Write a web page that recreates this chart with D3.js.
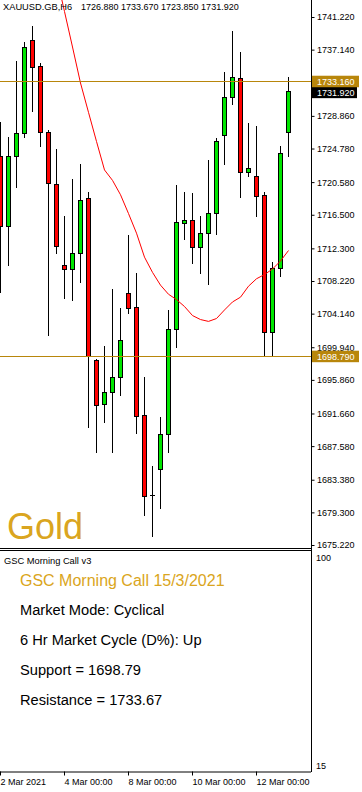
<!DOCTYPE html>
<html><head><meta charset="utf-8">
<script src="https://cdn.jsdelivr.net/npm/d3@7"></script>
<style>html,body{margin:0;padding:0;background:#fff;overflow:hidden}
text{font-family:"Liberation Sans",Arial,sans-serif}</style>
</head><body><svg id="c" width="362" height="792"></svg>
<script>
// ---------- data ----------
const symbolLabel = "XAUUSD.GB,H6";
const headerValues = "1726.880 1733.670 1723.850 1731.920";
const opens  = [1723.85,1715.10,1723.85,1726.68,1738.31,1735.10,1726.85,1720.31,1710.22,1709.68,1711.68,1718.56,1698.35,1692.80,1694.30,1696.18,1706.68,1704.93,1691.47,1681.43,1684.76,1689.06,1702.18,1715.51,1715.85,1712.51,1714.18,1716.68,1726.47,1731.18,1733.56,1721.88,1721.35,1718.97,1701.85,1709.81,1726.88];
const highs  = [1728.10,1726.22,1735.76,1738.06,1740.13,1735.43,1727.10,1724.72,1716.35,1720.97,1722.85,1719.35,1698.47,1700.10,1707.22,1704.81,1713.97,1709.18,1696.26,1685.10,1691.18,1704.60,1720.22,1719.38,1719.26,1716.35,1723.35,1726.10,1734.31,1739.51,1736.81,1728.01,1727.63,1719.38,1710.63,1725.10,1733.67];
const lows   = [1706.85,1710.22,1719.93,1726.26,1729.51,1725.13,1701.47,1711.68,1706.13,1705.85,1708.13,1690.01,1686.81,1690.56,1686.88,1693.97,1704.26,1689.26,1678.97,1676.38,1679.81,1686.81,1700.01,1713.43,1710.43,1709.26,1707.81,1714.10,1722.81,1730.31,1718.76,1721.38,1716.38,1698.88,1698.97,1708.88,1723.85];
const closes = [1715.10,1723.85,1726.68,1737.43,1734.93,1726.88,1720.43,1712.63,1709.68,1711.68,1718.30,1698.85,1692.72,1694.30,1696.18,1700.81,1704.81,1691.38,1681.38,1681.43,1689.10,1702.18,1715.56,1715.85,1712.51,1714.18,1716.68,1725.72,1731.22,1733.72,1721.88,1722.31,1718.88,1701.85,1709.81,1724.18,1731.92];
const maStart = 7;
const maValues = [1746.3,1741.9,1737.47,1732.97,1729.3,1725.66,1722.1,1720.8,1719.0,1716.65,1714.2,1711.2,1709.3,1707.7,1706.56,1705.9,1705.03,1703.9,1703.4,1703.17,1703.53,1704.6,1705.6,1706.2,1707.57,1708.5,1709.03,1709.72,1710.72,1712.03];
const priceTicks = [1741.22,1737.14,1728.86,1724.78,1720.58,1716.50,1712.30,1708.22,1704.14,1699.94,1695.86,1691.66,1687.58,1683.38,1679.30,1675.22];
const timeTickIndex = [0,8,16,24,32];
const timeTickLabels = ["2 Mar 2021","4 Mar 00:00","8 Mar 00:00","10 Mar 00:00","12 Mar 00:00"];
const resistanceLevel = 1733.16;
const supportLevel = 1698.79;
const lastPrice = 1731.92;
const subScaleLabels = [100, 15];
const watermark = "Gold";
const subWindowName = "GSC Morning Call v3";
const panelTitle = "GSC Morning Call 15/3/2021";
const panelLines = ["Market Mode: Cyclical","6 Hr Market Cycle (D%): Up","Support = 1698.79","Resistance = 1733.67"];

// ---------- layout ----------
const svg = d3.select("#c");
const plotR = 311, plotB = 548;
const GOLD = "#b8860b", GOLDTXT = "#daa520";
const x = d3.scaleLinear().domain([0,36]).range([0,288]);
const y = d3.scaleLinear().domain([1675.22,1741.22]).range([545,17]);
const ys = d3.scaleLinear().domain([15,100]).range([769,560.5]);

svg.append("rect").attr("width",362).attr("height",792).attr("fill","#fff");
svg.append("defs").append("clipPath").attr("id","plot")
  .append("rect").attr("x",0).attr("y",0).attr("width",plotR).attr("height",plotB);

const g = svg.append("g").attr("clip-path","url(#plot)");

// watermark
g.append("text").attr("x",7).attr("y",539).attr("font-size",36).attr("fill",GOLDTXT).text(watermark);

const data = opens.map((o,i)=>({i,o,h:highs[i],l:lows[i],c:closes[i]}));
const cx = d => Math.floor(x(d.i));

g.selectAll("line.wick").data(data).join("line").attr("class","wick")
  .attr("x1",d=>cx(d)+0.5).attr("x2",d=>cx(d)+0.5)
  .attr("y1",d=>Math.round(y(d.h))).attr("y2",d=>Math.round(y(d.l))+1)
  .attr("stroke","#000").attr("shape-rendering","crispEdges");

const bodies = data.filter(d=>Math.round(y(d.o))!==Math.round(y(d.c)));
g.selectAll("rect.body").data(bodies).join("rect").attr("class","body")
  .attr("x",d=>cx(d)-1.5).attr("width",4)
  .attr("y",d=>Math.round(y(Math.max(d.o,d.c)))+0.5)
  .attr("height",d=>Math.round(y(Math.min(d.o,d.c)))-Math.round(y(Math.max(d.o,d.c))))
  .attr("fill",d=>d.c>d.o?"#00e600":"#ff0000")
  .attr("stroke","#000").attr("shape-rendering","crispEdges");

const dojis = data.filter(d=>Math.round(y(d.o))===Math.round(y(d.c)));
g.selectAll("line.doji").data(dojis).join("line").attr("class","doji")
  .attr("x1",d=>cx(d)-2).attr("x2",d=>cx(d)+3)
  .attr("y1",d=>Math.round(y(d.o))+0.5).attr("y2",d=>Math.round(y(d.o))+0.5)
  .attr("stroke","#000").attr("shape-rendering","crispEdges");

// moving average
g.append("path").datum(maValues)
  .attr("d",d3.line().x((v,i)=>x(i+maStart)+0.5).y(v=>y(v)))
  .attr("fill","none").attr("stroke","#ff0000").attr("stroke-width",1);

// horizontal levels
[resistanceLevel,supportLevel].forEach(v=>{
  g.append("line").attr("x1",0).attr("x2",plotR)
   .attr("y1",Math.round(y(v))+0.5).attr("y2",Math.round(y(v))+0.5)
   .attr("stroke",GOLD).attr("shape-rendering","crispEdges");
});

// header text
svg.append("text").attr("x",3).attr("y",10).attr("font-size",9.3).attr("fill","#000").text(symbolLabel);
svg.append("text").attr("x",81).attr("y",10).attr("font-size",9).attr("fill","#000").text(headerValues);

// frame lines
const frame = svg.append("g").attr("stroke","#000").attr("shape-rendering","crispEdges");
frame.append("line").attr("x1",plotR+0.5).attr("x2",plotR+0.5).attr("y1",0).attr("y2",772);
frame.append("line").attr("x1",0).attr("x2",plotR).attr("y1",548.5).attr("y2",548.5);
frame.append("line").attr("x1",0).attr("x2",plotR).attr("y1",550.5).attr("y2",550.5);

// price axis
const ay = svg.append("g").attr("transform",`translate(${plotR+0.5},0)`)
  .call(d3.axisRight(y).tickValues(priceTicks).tickSize(3).tickPadding(2.5).tickFormat(d3.format(".3f")));
ay.select(".domain").remove();
ay.selectAll("text").attr("font-size",9).attr("font-family","Liberation Sans, Arial, sans-serif").attr("fill","#000");
ay.selectAll("line").attr("stroke","#000");

// time axis
const ax = svg.append("g").attr("transform","translate(0,771.5)")
  .call(d3.axisBottom(x).tickValues(timeTickIndex).tickSize(4).tickPadding(3).tickFormat((d,i)=>timeTickLabels[i]));
ax.select(".domain").attr("d",`M0,0.5H${plotR}`).attr("stroke","#000");
ax.selectAll("text").attr("font-size",9).attr("font-family","Liberation Sans, Arial, sans-serif").attr("text-anchor","start").attr("fill","#000");

// price labels
function priceBox(v, fill, w, shift){
  const yc = y(v)+shift;
  svg.append("rect").attr("x",312).attr("y",yc-5.75).attr("width",w).attr("height",11.5).attr("fill",fill);
  svg.append("text").attr("x",317).attr("y",yc+3.3).attr("font-size",9).attr("fill","#fff").text(d3.format(".3f")(v));
}
priceBox(lastPrice,"#000",45,1);
priceBox(resistanceLevel,GOLD,47,0);
priceBox(supportLevel,GOLD,47,0);

// sub window
svg.append("text").attr("x",4).attr("y",563.5).attr("font-size",9.3).attr("fill","#000").text(subWindowName);
svg.selectAll("text.sub").data(subScaleLabels).join("text").attr("class","sub")
  .attr("x",316).attr("y",d=>ys(d)).attr("font-size",9).attr("fill","#000").text(d=>d);
svg.append("text").attr("x",20).attr("y",586.3).attr("font-size",16).attr("fill",GOLDTXT).text(panelTitle);
svg.selectAll("text.pl").data(panelLines).join("text").attr("class","pl")
  .attr("x",20).attr("y",(d,i)=>615.3+i*30).attr("font-size",14.67).attr("fill","#000").text(d=>d);
</script></body></html>
